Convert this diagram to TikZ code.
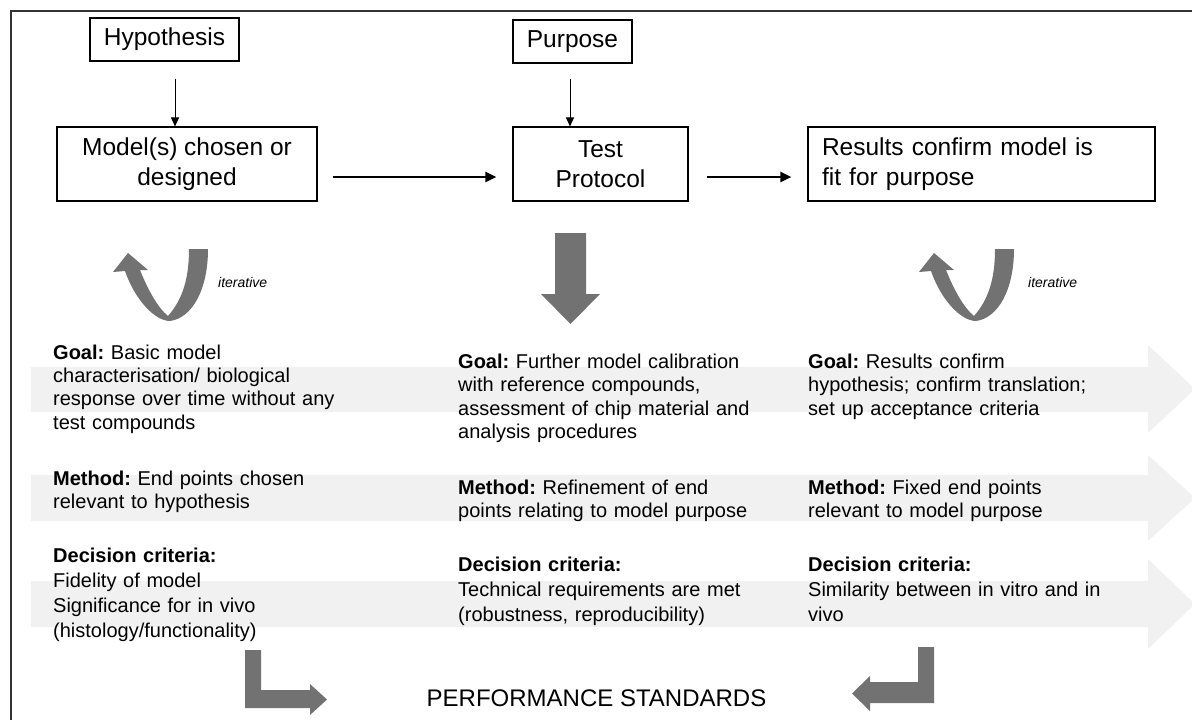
\documentclass[tikz,border=0pt]{standalone}
\usepackage{fontspec}
\setmainfont{Liberation Sans}
\usetikzlibrary{arrows.meta}
\definecolor{ag}{RGB}{114,114,114}
\definecolor{bandc}{RGB}{241,241,241}
\newcommand\boxfnt{\fontsize{24.5}{30.5}\selectfont}
\newcommand\txtfnt{\fontsize{20}{23.3}\selectfont}
\newcommand\decfnt{\fontsize{20}{25}\selectfont}
\frenchspacing
\begin{document}
\begin{tikzpicture}[x=1pt,y=-1pt,
  box/.style={draw=black, line width=1.1pt, inner sep=0pt, font=\boxfnt},
  thinarr/.style={-{Triangle[length=9pt,width=8pt]}, line width=1pt},
  thickarr/.style={-{Triangle[length=11pt,width=10pt]}, line width=2.4pt},
  txt/.style={anchor=north west, inner sep=0pt, text width=370pt, align=left, font=\txtfnt},
  dtxt/.style={txt, font=\decfnt},
  itl/.style={anchor=base west, inner sep=0pt, font=\fontsize{14}{16}\selectfont\itshape},
  band/.style={fill=bandc, draw=none},
  garr/.style={fill=ag, draw=none}]
\useasboundingbox (0,0) rectangle (1192,720);
% frame
\draw[line width=1.3pt, black!80] (11,720) -- (11,11) -- (1192,11);
% background bands
\path[band] (31,367) -- (1148,367) -- (1148,345) -- (1195,389) -- (1148,433) -- (1148,412) -- (31,412) -- cycle;
\path[band] (31,475) -- (1148,475) -- (1148,455) -- (1195,498) -- (1148,541) -- (1148,521) -- (31,521) -- cycle;
\path[band] (31,581) -- (1148,581) -- (1148,559) -- (1195,604) -- (1148,649) -- (1148,627) -- (31,627) -- cycle;
% top boxes
\node[box, minimum width=149pt, minimum height=43pt] (hyp) at (164.5,39.5) {Hypothesis};
\node[box, minimum width=119pt, minimum height=43pt] (purp) at (572.5,41.5) {Purpose};
\node[box, minimum width=260pt, minimum height=74pt, align=center] (model) at (187,164) {Model(s) chosen or\\designed};
\node[box, minimum width=175pt, minimum height=74pt, align=center] (test) at (600.5,164) {Test\\Protocol};
\node[box, minimum width=347pt, minimum height=74pt, text width=319pt, inner xsep=14pt, align=left] (res) at (981.5,164) {Results confirm model is\\fit for purpose};
% connectors
\draw[thinarr] ([xshift=10.5pt,yshift=-17pt]hyp.south) -- ([xshift=-12pt]model.north);
\draw[thinarr] ([xshift=-2.5pt,yshift=-15pt]purp.south) -- ([xshift=-30.5pt]test.north);
\draw[thickarr] ([xshift=15pt,yshift=-13pt]model.east) -- ([xshift=-16pt,yshift=-13pt]test.west);
\draw[thickarr] ([xshift=18pt,yshift=-13pt]test.east) -- ([xshift=-16pt,yshift=-13pt]res.west);
% iterative arrows
\path[garr] (189,249) -- (208,249) .. controls (208,290) and (192,318) .. (170,321)
  .. controls (155,321) and (135,300) .. (125,271) -- (113,272) -- (128,253) -- (148,270) -- (140,270)
  .. controls (148,290) and (158,308) .. (168,316) .. controls (182,300) and (189,280) .. (189,249) -- cycle;
\node[itl] (it1) at (218,287) {iterative};
\begin{scope}[shift={(806,0)}]
\path[garr] (189,249) -- (208,249) .. controls (208,290) and (192,318) .. (170,321)
  .. controls (155,321) and (135,300) .. (125,271) -- (113,272) -- (128,253) -- (148,270) -- (140,270)
  .. controls (148,290) and (158,308) .. (168,316) .. controls (182,300) and (189,280) .. (189,249) -- cycle;
\end{scope}
\node[itl] (it2) at (1028,287) {iterative};
% big down arrow
\path[garr] (555,233) -- (586,233) -- (586,294) -- (600,294) -- (570.5,324) -- (541,294) -- (555,294) -- cycle;
% texts: goals
\node[txt] (g1) at (53,344.5) {\textbf{Goal:} Basic model\\characterisation/ biological\\response over time without any\\test compounds};
\node[txt] (g2) at (458,354) {\textbf{Goal:} Further model calibration\\with reference compounds,\\assessment of chip material and\\analysis procedures};
\node[txt] (g3) at (808,354) {\textbf{Goal:} Results confirm\\hypothesis; confirm translation;\\set up acceptance criteria};
% methods
\node[txt] (m1) at (53,471) {\textbf{Method:} End points chosen\\relevant to hypothesis};
\node[txt] (m2) at (458,480) {\textbf{Method:} Refinement of end\\points relating to model purpose};
\node[txt] (m3) at (808,480) {\textbf{Method:} Fixed end points\\relevant to model purpose};
% decision
\node[dtxt] (d1) at (53,548) {\textbf{Decision criteria:}\\Fidelity of model\\Significance for in vivo\\(histology/functionality)};
\node[dtxt] (d2) at (458,557) {\textbf{Decision criteria:}\\Technical requirements are met\\(robustness, reproducibility)};
\node[dtxt] (d3) at (808,557) {\textbf{Decision criteria:}\\Similarity between in vitro and in\\vivo};
% bottom
\node[inner sep=0pt, font=\fontsize{24}{28}\selectfont] (perf) at (596.5,698) {PERFORMANCE STANDARDS};
\path[garr] (245,650) -- (261,650) -- (261,690) -- (310,690) -- (310,684) -- (327,699.5) -- (310,715) -- (310,708) -- (245,708) -- cycle;
\path[garr] (934,647) -- (918,647) -- (918,682) -- (870,682) -- (870,676) -- (852,693.5) -- (870,711) -- (870,703) -- (934,703) -- cycle;
\end{tikzpicture}
\end{document}
